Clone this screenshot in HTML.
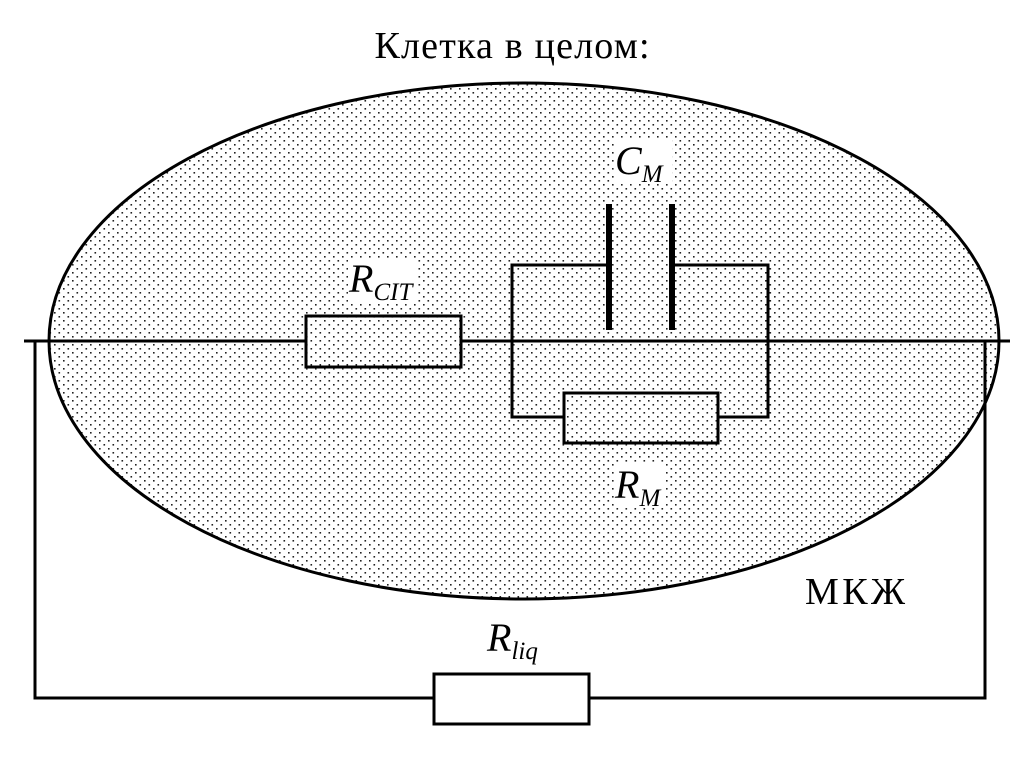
<!DOCTYPE html>
<html><head><meta charset="utf-8"><style>
html,body{margin:0;padding:0;background:#fff;}
svg{display:block;}
text{font-family:"Liberation Serif",serif;fill:#000;}
</style></head><body>
<svg width="1024" height="767" viewBox="0 0 1024 767" xmlns="http://www.w3.org/2000/svg">
<defs>
<pattern id="dots" width="9" height="8" patternUnits="userSpaceOnUse">
<rect width="9" height="8" fill="#fff"/>
<rect x="0" y="0" width="1.6" height="1.6" fill="#222"/>
<rect x="4.5" y="4" width="1.6" height="1.6" fill="#222"/>
</pattern>
</defs>
<text x="512" y="58" font-size="38" text-anchor="middle" textLength="275">Клетка в целом:</text>
<ellipse cx="524" cy="341" rx="475" ry="258" fill="url(#dots)" stroke="#000" stroke-width="3"/>
<g stroke="#000" stroke-width="3" fill="none">
<line x1="24" y1="341" x2="1010" y2="341"/>
<polyline points="35,341 35,698 985,698 985,341"/>
<rect x="306" y="316" width="155" height="51" fill="url(#dots)"/>
<rect x="434" y="674" width="155" height="50" fill="#fff"/>
<polyline points="609,265 512,265 512,417 564,417"/>
<polyline points="672,265 768,265 768,417 718,417"/>
<rect x="564" y="393" width="154" height="50" fill="url(#dots)"/>
</g>
<rect x="606" y="204" width="6" height="126" fill="#000"/>
<rect x="669" y="204" width="6" height="126" fill="#000"/>
<rect x="614" y="140" width="58" height="44" fill="#fff"/>
<text x="615" y="174" font-size="40" font-style="italic">C<tspan font-size="25" dy="8">M</tspan></text>
<rect x="348" y="260" width="68" height="42" fill="#fff"/>
<text x="349" y="292" font-size="40" font-style="italic">R<tspan font-size="25" dy="8">CIT</tspan></text>
<rect x="614" y="462" width="52" height="46" fill="#fff"/>
<text x="615" y="498" font-size="40" font-style="italic">R<tspan font-size="25" dy="8">M</tspan></text>
<text x="487" y="651" font-size="40" font-style="italic">R<tspan font-size="25" dy="8">liq</tspan></text>
<text x="805" y="604" font-size="38" textLength="100">МКЖ</text>
</svg>
</body></html>
